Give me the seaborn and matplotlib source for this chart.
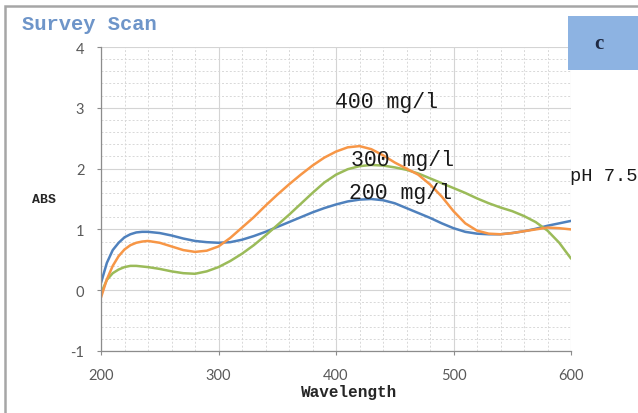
import numpy as np
import pandas as pd
import seaborn as sns
import matplotlib
matplotlib.use("Agg")
import matplotlib.pyplot as plt
from matplotlib.ticker import MultipleLocator
from matplotlib.patches import Rectangle

wavelength = [200, 205, 210, 215, 220, 225, 230, 235, 240, 250, 260, 270, 280, 290, 300, 310, 320, 330, 340,
              350, 360, 370, 380, 390, 400, 410, 420, 430, 440, 450, 460, 470, 480, 490,
              500, 510, 520, 530, 540, 550, 560, 570, 580, 590, 600]
abs_200 = [0.12, 0.45, 0.66, 0.78, 0.87, 0.92, 0.95, 0.96, 0.96, 0.94, 0.90, 0.85, 0.81, 0.79, 0.78, 0.79, 0.83, 0.89, 0.96,
           1.04, 1.12, 1.20, 1.28, 1.35, 1.41, 1.46, 1.49, 1.50, 1.48, 1.43, 1.35, 1.27, 1.19, 1.10,
           1.02, 0.96, 0.93, 0.92, 0.92, 0.94, 0.97, 1.01, 1.06, 1.10, 1.14]
abs_300 = [-0.05, 0.17, 0.28, 0.34, 0.38, 0.40, 0.40, 0.39, 0.38, 0.35, 0.31, 0.28, 0.27, 0.31, 0.38, 0.48, 0.60, 0.74, 0.90,
           1.07, 1.24, 1.42, 1.60, 1.77, 1.90, 1.99, 2.04, 2.06, 2.05, 2.02, 1.98, 1.92, 1.84, 1.76,
           1.68, 1.60, 1.51, 1.43, 1.36, 1.30, 1.22, 1.12, 0.98, 0.78, 0.52]
abs_400 = [-0.12, 0.18, 0.40, 0.56, 0.67, 0.74, 0.78, 0.80, 0.81, 0.78, 0.72, 0.66, 0.63, 0.65, 0.72, 0.86, 1.03, 1.20, 1.39,
           1.57, 1.74, 1.90, 2.05, 2.18, 2.28, 2.35, 2.37, 2.32, 2.22, 2.10, 2.00, 1.90, 1.74, 1.54,
           1.30, 1.10, 0.98, 0.93, 0.92, 0.94, 0.97, 1.00, 1.03, 1.02, 1.00]
series_names = ["200 mg/l", "300 mg/l", "400 mg/l"]
series_colors = ["#4f81bd", "#9bbb59", "#f79646"]
x_ticks = [200, 300, 400, 500, 600]
y_ticks = [-1, 0, 1, 2, 3, 4]

df = pd.concat([
    pd.DataFrame({"Wavelength": wavelength, "ABS": vals, "series": name})
    for name, vals in zip(series_names, [abs_200, abs_300, abs_400])
])

sns.set_theme(style="white")
mono = ["Liberation Mono", "DejaVu Sans Mono"]

fig = plt.figure(figsize=(6.38, 4.14), dpi=100)
ax = fig.add_axes([101/638, 1-352/414, 470/638, 304/414])

sns.lineplot(data=df, x="Wavelength", y="ABS", hue="series", hue_order=series_names,
             palette=series_colors, linewidth=1.8, legend=False, ax=ax, sort=True)

ax.set_xlim(200, 600)
ax.set_ylim(-1, 4)
ax.set_xticks(x_ticks)
ax.set_yticks(y_ticks)
ax.set_xticklabels([str(v) for v in x_ticks])
ax.set_yticklabels([str(v) for v in y_ticks])
ax.xaxis.set_minor_locator(MultipleLocator(20))
ax.yaxis.set_minor_locator(MultipleLocator(0.2))
ax.grid(which="major", color="#d4d4d4", linewidth=0.8, linestyle="-")
ax.grid(which="minor", color="#d8d8d8", linewidth=0.7, linestyle=(0, (2, 2)))
ax.set_axisbelow(True)
for s in ["top", "right"]:
    ax.spines[s].set_visible(False)
for s in ["left", "bottom"]:
    ax.spines[s].set_color("#8c8c8c")
    ax.spines[s].set_linewidth(0.9)
ax.tick_params(which="major", direction="out", length=3, width=0.8, color="#8c8c8c",
               labelsize=10.5, labelcolor="#595959", left=True, bottom=True)
ax.tick_params(axis="y", pad=9)
ax.tick_params(axis="x", pad=9)
ax.tick_params(which="minor", length=0)
for lab in ax.get_xticklabels() + ax.get_yticklabels():
    lab.set_family(["Lato", "DejaVu Sans"])

ax.set_xlabel("")
ax.set_ylabel("")
fig.text(349/638, 1-393/414, "Wavelength", family=mono, weight="bold", fontsize=11.5,
         color="#262626", ha="center", va="center")
fig.text(44/638, 1-200/414, "ABS", family=mono, weight="bold", fontsize=9.5,
         color="#262626", ha="center", va="center")
fig.text(22/638, 1-24/414, "Survey Scan", family=mono, weight="bold", fontsize=14.8,
         color="#6e95c9", ha="left", va="center")

ax.text(399, 3.1, "400 mg/l", family=mono, fontsize=15.5, color="#1a1a1a", ha="left", va="center")
ax.text(413, 2.15, "300 mg/l", family=mono, fontsize=15.5, color="#1a1a1a", ha="left", va="center")
ax.text(411, 1.61, "200 mg/l", family=mono, fontsize=15.5, color="#1a1a1a", ha="left", va="center")
ax.text(599, 1.89, "pH 7.5", family=mono, fontsize=13.5, color="#1a1a1a", ha="left",
        va="center", clip_on=False)

# chart frame
fig.patches.append(Rectangle((5/638, -0.1), 1.2, 1 - 7/414 + 0.1, transform=fig.transFigure,
                             fill=False, edgecolor="#a6a6a6", linewidth=1.8))
# panel label box
fig.patches.append(Rectangle((568/638, 1-71/414), 70/638, 54/414, transform=fig.transFigure,
                             facecolor="#8db3e2", edgecolor="none"))
fig.text(599/638, 1-44/414, "c", family=["Liberation Serif", "DejaVu Serif"], weight="bold",
         fontsize=15, color="#1f2a44", ha="center", va="center")

fig.savefig("out.png", dpi=100)
